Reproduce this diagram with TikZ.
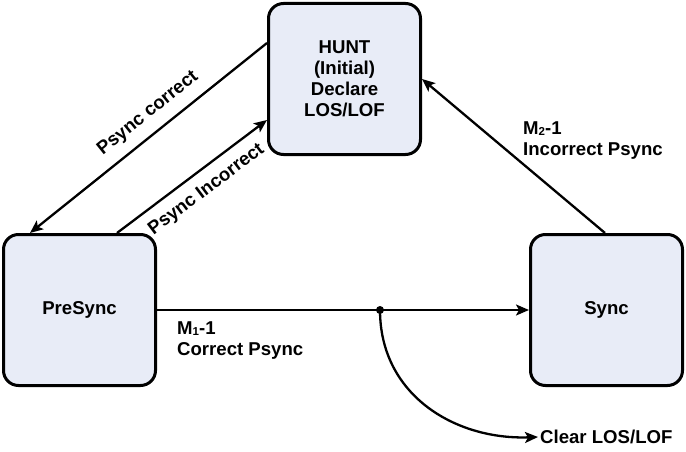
\documentclass[tikz,border=0pt]{standalone}
\usepackage{fontspec}
\setmainfont{Liberation Sans}
\usetikzlibrary{arrows.meta}
\definecolor{boxfill}{RGB}{232,236,247}
\tikzset{
  statebox/.style={draw=black, line width=3pt, fill=boxfill, rounded corners=15pt,
    minimum width=152pt, minimum height=151pt, align=center,
    font=\fontsize{18.6}{21}\selectfont\bfseries},
  arr/.style={line width=2.3pt, -{Stealth[length=13pt,width=11pt,inset=3pt]}},
  lbl/.style={font=\fontsize{18.6}{21}\selectfont\bfseries, align=left, inner sep=0pt},
  slbl/.style={font=\fontsize{18.6}{21}\selectfont\bfseries, sloped, inner sep=3pt}
}
\newcommand{\smallsub}[1]{{\fontsize{11.5}{11.5}\selectfont\raisebox{-0.5pt}{#1}}}
\begin{document}
\begin{tikzpicture}[x=1pt,y=-1pt]
\useasboundingbox (0,0) rectangle (686,452);
\node[statebox] (hunt) at (344.5,79) {HUNT\\(Initial)\\Declare\\LOS/LOF};
\node[statebox] (presync) at (79.5,310) {PreSync};
\node[statebox] (sync) at (606.5,310) {Sync};
\coordinate (dot) at (380,310);
\node[lbl, anchor=west, inner sep=2pt] (clear) at (538,437) {Clear LOS/LOF};
\node[lbl, anchor=north west] (m1) at (177,322) {M\smallsub{1}-1\\Correct Psync};
\node[lbl, anchor=north west] (m2) at (523,122) {M\smallsub{2}-1\\Incorrect Psync};

\draw[arr] ([yshift=-41pt]hunt.north west) -- node[slbl, pos=0.45, above=7pt] {Psync correct} ([xshift=28pt]presync.north west);
\draw[arr] ([xshift=115pt]presync.north west) -- node[slbl, pos=0.52, below=7pt] {Psync Incorrect} ([yshift=-118pt]hunt.north west);
\draw[arr] ([xshift=76pt]sync.north west) -- (hunt.east);
\draw[arr] (presync.east) -- (sync.west);
\fill (dot) circle (4pt);
\draw[arr] (dot) .. controls (380,395) and (455,440) .. (clear.west);
\end{tikzpicture}
\end{document}
